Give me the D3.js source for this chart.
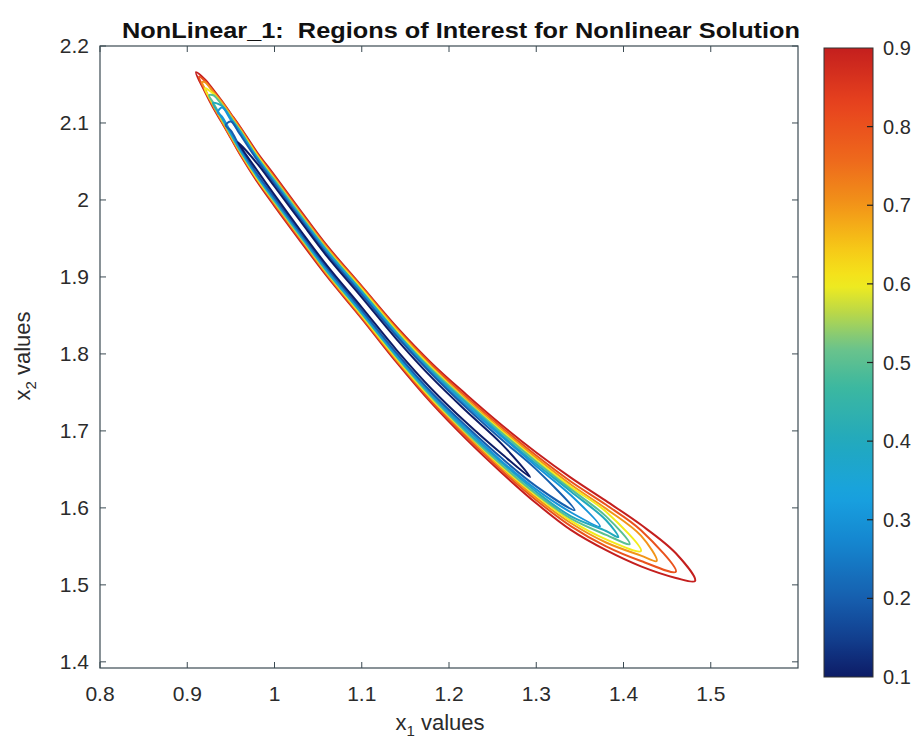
<!DOCTYPE html>
<html>
<head>
<meta charset="utf-8">
<script src="https://cdn.jsdelivr.net/npm/d3@7"></script>
<style>
  body { margin: 0; background: #fff; }
  svg { display: block; font-family: 'Liberation Sans', Arial, sans-serif; }
</style>
</head>
<body>
<svg id="chart" width="917" height="752"></svg>
<script>
// contour levels shown on the colorbar
const levels = [0.1, 0.2, 0.3, 0.4, 0.5, 0.6, 0.7, 0.8, 0.9];

// tips of each contour loop (x1, x2)
const tipLeftX1  = [0.958, 0.944, 0.935, 0.9295, 0.925, 0.920, 0.917, 0.9135, 0.910];
const tipLeftX2  = [2.075, 2.097, 2.114, 2.126, 2.136, 2.145, 2.153, 2.160, 2.166];
const tipRightX1 = [1.293, 1.344, 1.373, 1.394, 1.407, 1.420, 1.438, 1.460, 1.482];
const tipRightX2 = [1.640, 1.597, 1.576, 1.562, 1.553, 1.544, 1.531, 1.517, 1.505];

// ridge line running down the middle of the banana
const ridgeX1 = [0.92, 0.93, 0.94, 0.95, 0.96, 0.98, 1.00, 1.03, 1.06, 1.10, 1.14, 1.18, 1.22, 1.26, 1.30, 1.34, 1.38, 1.42, 1.46];
const ridgeX2 = [2.149, 2.131, 2.114, 2.096, 2.078, 2.043, 2.012, 1.966, 1.921, 1.867, 1.812, 1.762, 1.718, 1.677, 1.639, 1.605, 1.577, 1.551, 1.525];

// half thickness (in x2 units) of each loop along the ridge, null = loop already closed
const halfWidths = [
  [null, null, null, null, null, .0045, .0055, .006, .006, .0065, .007, .0075, .0075, .0065, null, null, null, null, null], // 0.1
  [null, null, null, .006, .008, .009, .009, .009, .009, .010, .011, .012, .012, .012, .011, null, null, null, null],       // 0.2
  [null, null, .006, .008, .010, .011, .011, .011, .011, .012, .013, .014, .015, .016, .015, .011, null, null, null],       // 0.3
  [null, null, .008, .010, .012, .012, .012, .012, .013, .014, .015, .016, .018, .018, .018, .016, .007, null, null],       // 0.4
  [null, .005, .009, .011, .013, .013, .014, .014, .014, .015, .016, .018, .020, .021, .021, .019, .012, null, null],       // 0.5
  [null, .007, .010, .012, .014, .015, .015, .015, .015, .017, .018, .020, .021, .023, .023, .022, .018, null, null],       // 0.6
  [.004, .009, .012, .014, .015, .016, .016, .016, .017, .018, .020, .021, .023, .025, .026, .025, .022, .013, null],       // 0.7
  [.006, .010, .013, .015, .017, .017, .018, .018, .018, .020, .021, .024, .026, .028, .029, .029, .027, .020, null],       // 0.8
  [.008, .012, .014, .016, .018, .019, .020, .020, .020, .021, .023, .026, .029, .031, .033, .034, .032, .027, .016]        // 0.9
];

// axis ticks
const xTicks = [0.8, 0.9, 1.0, 1.1, 1.2, 1.3, 1.4, 1.5];
const yTicks = [1.4, 1.5, 1.6, 1.7, 1.8, 1.9, 2.0, 2.1, 2.2];
const cbTicks = [0.1, 0.2, 0.3, 0.4, 0.5, 0.6, 0.7, 0.8, 0.9];

// colormap (jet-like, as printed)
const cmapStops  = [0.1, 0.15, 0.2, 0.27, 0.33, 0.4, 0.47, 0.52, 0.56, 0.6, 0.65, 0.7, 0.76, 0.83, 0.9];
const cmapColors = ['#0d1c66', '#123f8f', '#165fae', '#1585cf', '#18a2e0', '#22a9bd', '#3db89f', '#6dc48a',
                    '#b5d64c', '#f3ec1c', '#f6c417', '#f29418', '#ee671c', '#e7421e', '#c41f1e'];

const svg = d3.select('#chart');
const axisColor = '#3b4a52';
const textColor = '#2b2b2b';

const x = d3.scaleLinear().domain([0.8, 1.6]).range([100, 798]);
const y = d3.scaleLinear().domain([1.392, 2.2]).range([668, 46]);
const color = d3.scaleLinear().domain(cmapStops).range(cmapColors).interpolate(d3.interpolateRgb);

// build closed outline of one loop: left tip -> upper edge -> right tip -> lower edge
function loopPoints(k) {
  const hw = halfWidths[k];
  const pts = [[tipLeftX1[k], tipLeftX2[k]]];
  ridgeX1.forEach((v, i) => {
    if (hw[i] != null) pts.push([v, ridgeX2[i] + hw[i]]);
  });
  pts.push([tipRightX1[k], tipRightX2[k]]);
  for (let i = ridgeX1.length - 1; i >= 0; i--) {
    if (hw[i] != null) pts.push([ridgeX1[i], ridgeX2[i] - hw[i]]);
  }
  return pts;
}

const line = d3.line()
  .x(d => x(d[0]))
  .y(d => y(d[1]))
  .curve(d3.curveCatmullRomClosed.alpha(0.5));

// draw outer loops first so inner ones sit on top
const order = d3.range(levels.length).reverse();
svg.append('g')
  .selectAll('path')
  .data(order)
  .join('path')
  .attr('d', k => line(loopPoints(k)))
  .attr('fill', 'none')
  .attr('stroke', k => color(levels[k]))
  .attr('stroke-width', 2)
  .attr('stroke-linejoin', 'round');

// axes box with inward ticks (matlab style)
const gAxes = svg.append('g');
gAxes.append('rect')
  .attr('x', 100).attr('y', 46)
  .attr('width', 698).attr('height', 622)
  .attr('fill', 'none').attr('stroke', axisColor).attr('stroke-width', 1.2);

const tickLen = 6;
xTicks.forEach(v => {
  gAxes.append('line').attr('x1', x(v)).attr('x2', x(v)).attr('y1', 668).attr('y2', 668 - tickLen)
    .attr('stroke', axisColor);
  gAxes.append('line').attr('x1', x(v)).attr('x2', x(v)).attr('y1', 46).attr('y2', 46 + tickLen)
    .attr('stroke', axisColor);
  gAxes.append('text').attr('x', x(v)).attr('y', 701)
    .attr('text-anchor', 'middle').attr('font-size', 21).attr('fill', textColor)
    .text(d3.format('~g')(v));
});
yTicks.forEach(v => {
  gAxes.append('line').attr('x1', 100).attr('x2', 100 + tickLen).attr('y1', y(v)).attr('y2', y(v))
    .attr('stroke', axisColor);
  gAxes.append('line').attr('x1', 798).attr('x2', 798 - tickLen).attr('y1', y(v)).attr('y2', y(v))
    .attr('stroke', axisColor);
  gAxes.append('text').attr('x', 89).attr('y', y(v) + 7)
    .attr('text-anchor', 'end').attr('font-size', 21).attr('fill', textColor)
    .text(d3.format('~g')(v));
});

// axis labels with subscripts
const xl = svg.append('text').attr('x', 440).attr('y', 730)
  .attr('text-anchor', 'middle').attr('font-size', 22).attr('fill', textColor);
xl.append('tspan').text('x');
xl.append('tspan').attr('dy', 6).attr('font-size', 15).text('1');
xl.append('tspan').attr('dy', -6).text(' values');

const yl = svg.append('text').attr('transform', 'translate(30,356) rotate(-90)')
  .attr('text-anchor', 'middle').attr('font-size', 22).attr('fill', textColor);
yl.append('tspan').text('x');
yl.append('tspan').attr('dy', 6).attr('font-size', 15).text('2');
yl.append('tspan').attr('dy', -6).text(' values');

// title (keeps the double space after the colon)
svg.append('text').attr('x', 461).attr('y', 38)
  .attr('text-anchor', 'middle')
  .style('white-space', 'pre')
  .attr('font-family', "'Liberation Sans Narrow', 'Arial Narrow', 'Liberation Sans', Arial, sans-serif")
  .attr('font-weight', 'bold').attr('font-size', 22).attr('fill', '#111')
  .attr('textLength', 678).attr('lengthAdjust', 'spacingAndGlyphs')
  .text('NonLinear_1:  Regions of Interest for Nonlinear Solution');

// colorbar
const cb = d3.scaleLinear().domain([0.1, 0.9]).range([677, 48]);
const defs = svg.append('defs');
const grad = defs.append('linearGradient').attr('id', 'cbGrad')
  .attr('x1', 0).attr('y1', 1).attr('x2', 0).attr('y2', 0);
d3.range(0, 1.0001, 0.02).forEach(t => {
  const v = 0.1 + t * 0.8;
  grad.append('stop').attr('offset', t).attr('stop-color', color(v));
});
svg.append('rect')
  .attr('x', 824).attr('y', cb(0.9))
  .attr('width', 49).attr('height', cb(0.1) - cb(0.9))
  .attr('fill', 'url(#cbGrad)')
  .attr('stroke', '#333').attr('stroke-width', 1);
cbTicks.forEach(v => {
  if (v > 0.1 && v < 0.9) {
    svg.append('line').attr('x1', 873).attr('x2', 867).attr('y1', cb(v)).attr('y2', cb(v))
      .attr('stroke', '#222').attr('stroke-width', 1.2);
  }
  svg.append('text').attr('x', 883).attr('y', cb(v) + 7)
    .attr('font-size', 20).attr('fill', textColor)
    .text(d3.format('.1f')(v));
});
</script>
</body>
</html>
